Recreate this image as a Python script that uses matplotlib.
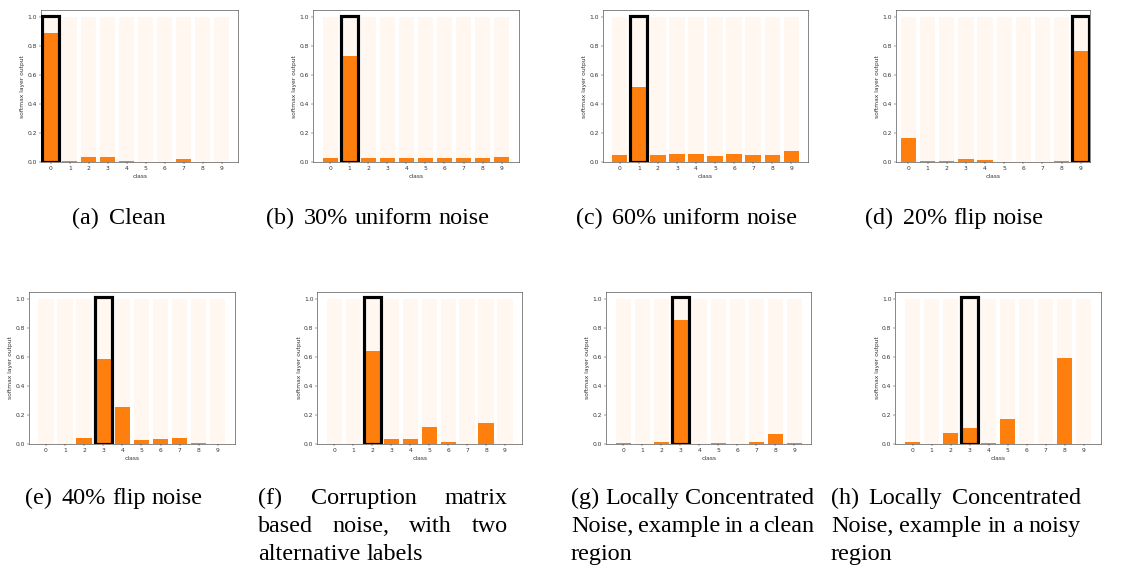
import matplotlib
matplotlib.use('Agg')
import matplotlib.pyplot as plt
from matplotlib.patches import Rectangle

# softmax outputs per panel, class 0..9
classes = list(range(10))
clean = [0.888, 0.007, 0.034, 0.034, 0.006, 0.002, 0.005, 0.023, 0.004, 0.004]
uniform_30 = [0.033, 0.73, 0.030, 0.030, 0.030, 0.030, 0.030, 0.030, 0.030, 0.037]
uniform_60 = [0.050, 0.516, 0.050, 0.057, 0.057, 0.046, 0.057, 0.050, 0.050, 0.080]
flip_20 = [0.168, 0.006, 0.007, 0.020, 0.013, 0.003, 0.003, 0.003, 0.007, 0.768]
flip_40 = [0.003, 0.003, 0.041, 0.584, 0.260, 0.027, 0.034, 0.044, 0.006, 0.003]
corruption = [0.003, 0.003, 0.639, 0.034, 0.039, 0.117, 0.018, 0.003, 0.147, 0.003]
local_clean = [0.006, 0.003, 0.018, 0.857, 0.003, 0.007, 0.003, 0.018, 0.071, 0.006]
local_noisy = [0.014, 0.003, 0.080, 0.115, 0.008, 0.177, 0.003, 0.003, 0.595, 0.003]

outputs = [clean, uniform_30, uniform_60, flip_20, flip_40, corruption, local_clean, local_noisy]
true_labels = [0, 1, 1, 9, 3, 2, 3, 3]

captions = [
    ["(a) Clean"],
    ["(b) 30% uniform noise"],
    ["(c) 60% uniform noise"],
    ["(d) 20% flip noise"],
    ["(e) 40% flip noise"],
    ["(f) Corruption matrix", "based noise, with two", "alternative labels"],
    ["(g) Locally Concentrated", "Noise, example in a clean", "region"],
    ["(h) Locally Concentrated", "Noise, example in a noisy", "region"],
]

W, H = 1128, 573
fig = plt.figure(figsize=(W / 100, H / 100), dpi=100)

# axes boxes in pixels: left, top, right, bottom
boxes = [
    (41, 10, 238.3, 162.3), (313.2, 10, 518.7, 162.3),
    (602.7, 10, 808.3, 162.3), (896, 10, 1090.3, 162.3),
    (28.7, 291.7, 235, 444.3), (317.4, 291.7, 522, 444.3),
    (606, 291.7, 811.3, 444.3), (895.4, 291.7, 1101, 444.3),
]
xlims = [(-0.52, 9.87), (-0.9, 9.9), (-0.9, 9.9), (-0.65, 9.5),
         (-0.9, 9.9), (-0.9, 9.9), (-0.9, 9.9), (-0.9, 9.9)]

s = 0.413  # shrink factor of the small panels
orange = '#ff7f0e'

for k, probs in enumerate(outputs):
    l, t, r, b = boxes[k]
    ax = fig.add_axes([l / W, 1 - b / H, (r - l) / W, (b - t) / H])
    ax.bar(classes, [1.0] * 10, width=0.8, color=orange, alpha=0.06)
    ax.bar(classes, probs, width=0.8, color=orange)
    ax.add_patch(Rectangle((true_labels[k] - 0.45, 0), 0.9, 1.012, fill=False,
                           edgecolor='black', linewidth=5.5 * s, zorder=3))
    ax.set_xlim(*xlims[k])
    ax.set_ylim(0, 1.05)
    ax.set_xticks(classes)
    ax.set_yticks([0.0, 0.2, 0.4, 0.6, 0.8, 1.0])
    ax.tick_params(labelsize=10.5 * s, length=3.5 * s, width=0.8 * s, pad=3.5 * s,
                   colors='#333333')
    for sp in ax.spines.values():
        sp.set_linewidth(1.0 * s)
        sp.set_color('#333333')
    ax.set_xlabel('class', fontsize=10.5 * s, labelpad=4 * s, color='#333333')
    ax.set_ylabel('softmax layer output', fontsize=10.5 * s, labelpad=4 * s,
                  color='#333333')

# captions, typeset like a LaTeX subfigure
cap_font = dict(family='Liberation Serif', fontsize=17.4, color='black')
renderer = fig.canvas.get_renderer()
space = 6.0
label_gap = 10.0


def word_widths(words):
    ws = []
    for w in words:
        t = fig.text(0, 0, w, **cap_font)
        ws.append(t.get_window_extent(renderer).width)
        t.remove()
    return ws


def draw_line(words, x0, y, gaps):
    x = x0
    ws = word_widths(words)
    for i, w in enumerate(words):
        fig.text(x / W, 1 - y / H, w, ha='left', va='baseline', **cap_font)
        if i < len(words) - 1:
            x += ws[i] + gaps[i]


def natural_gaps(words, first_line):
    g = [space] * (len(words) - 1)
    if first_line and g:
        g[0] = label_gap
    return g


centers = [118.5, 377.5, 686.5, 954, 113.5]
columns = {5: (258, 508), 6: (571, 814), 7: (831, 1081)}
baselines = [224, 504]
line_step = 28

for k, lines in enumerate(captions):
    y0 = baselines[k // 4]
    if len(lines) == 1:
        words = lines[0].split(' ')
        gaps = natural_gaps(words, True)
        total = sum(word_widths(words)) + sum(gaps)
        draw_line(words, centers[k] - total / 2, y0, gaps)
    else:
        x0, x1 = columns[k]
        for j, line in enumerate(lines):
            words = line.split(' ')
            y = y0 + j * line_step
            if j < len(lines) - 1:
                ws = word_widths(words)
                g = (x1 - x0 - sum(ws)) / (len(words) - 1)
                draw_line(words, x0, y, [g] * (len(words) - 1))
            else:
                draw_line(words, x0, y, natural_gaps(words, j == 0))

fig.savefig('out.png', dpi=100)
